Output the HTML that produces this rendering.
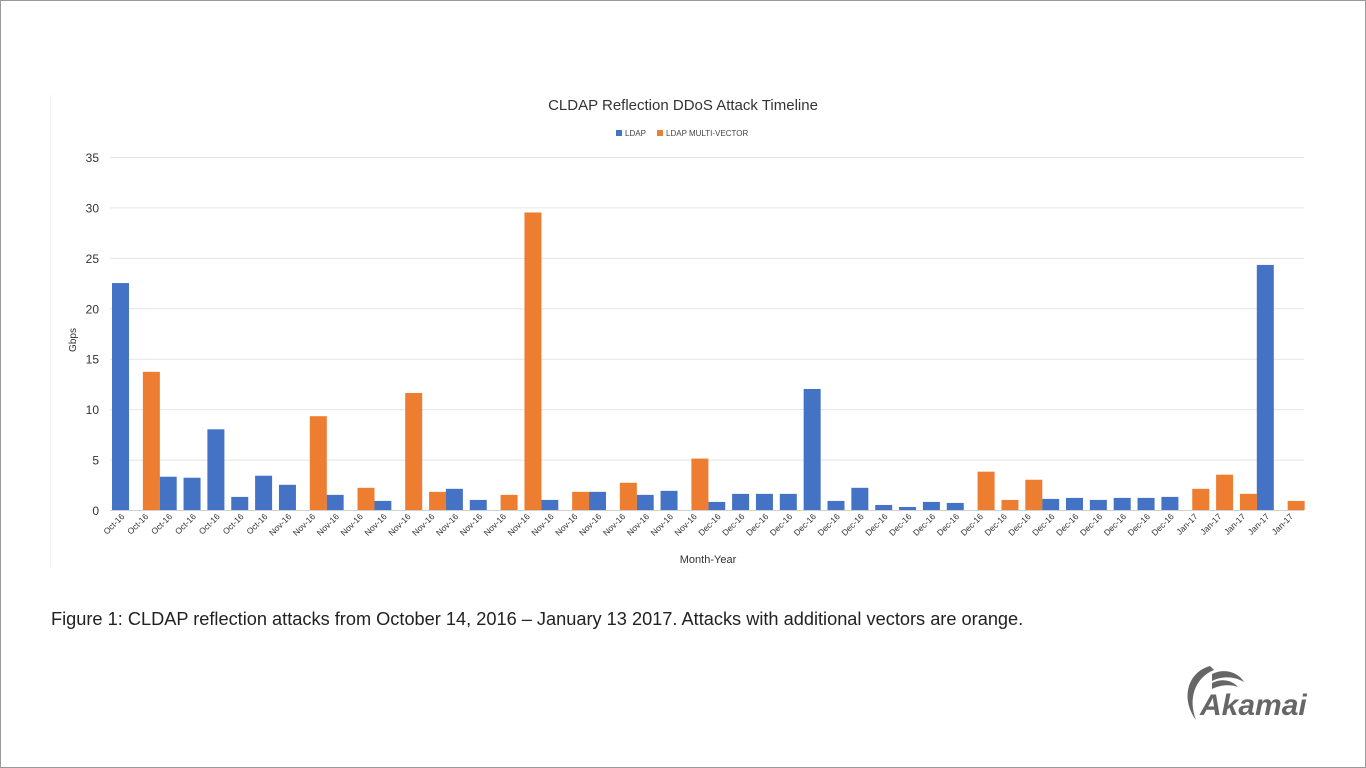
<!DOCTYPE html>
<html><head><meta charset="utf-8"><style>
html,body{margin:0;padding:0;background:#fff}
#frame{position:absolute;left:0;top:0;width:1364px;height:766px;border:1px solid #9a9a9a;background:#fff}
svg text{font-family:"Liberation Sans",sans-serif}
#caption{position:absolute;left:51px;top:609px;font-family:"Liberation Sans",sans-serif;font-size:18.2px;color:#222;white-space:nowrap}
</style></head><body>
<div id="frame"></div>
<svg id="chart" width="1366" height="768" style="position:absolute;left:0;top:0">
<line x1="50.5" y1="95" x2="50.5" y2="568" stroke="#f2f2f2"/>
<text x="683" y="110" text-anchor="middle" font-size="15" fill="#333">CLDAP Reflection DDoS Attack Timeline</text>
<g>
<rect x="616" y="130" width="6" height="6" fill="#4472c4"/>
<text x="625" y="136" font-size="8" fill="#444">LDAP</text>
<rect x="657" y="130" width="6" height="6" fill="#ed7d31"/>
<text x="666" y="136" font-size="8" fill="#444">LDAP MULTI-VECTOR</text>
</g>
<text transform="translate(76,340) rotate(-90)" text-anchor="middle" font-size="10" fill="#333">Gbps</text>
<text x="708" y="563" text-anchor="middle" font-size="11" fill="#333">Month-Year</text>
<g id="grid"></g><g id="bars"></g><g id="xlabels"></g>
</svg>
<div id="caption">Figure 1: CLDAP reflection attacks from October 14, 2016 – January 13 2017. Attacks with additional vectors are orange.</div>
<svg width="140" height="70" style="position:absolute;left:1180px;top:660px">
<path d="M30 6 C8 12 0 38 16 60 C8 40 14 18 34 10 Z" fill="#666"/>
<path d="M32 14 C44 8 58 12 64 22 C54 16 42 16 32 21 Z" fill="#666"/>
<path d="M32 23 C42 18 52 20 58 27 C50 24 40 25 32 29 Z" fill="#666"/>
<text x="20" y="55" font-size="30" font-weight="bold" font-style="italic" fill="#666">Akamai</text>
</svg>
<script>
const labels=["Oct-16","Oct-16","Oct-16","Oct-16","Oct-16","Oct-16","Oct-16",
"Nov-16","Nov-16","Nov-16","Nov-16","Nov-16","Nov-16","Nov-16","Nov-16","Nov-16","Nov-16","Nov-16","Nov-16","Nov-16","Nov-16","Nov-16","Nov-16","Nov-16","Nov-16",
"Dec-16","Dec-16","Dec-16","Dec-16","Dec-16","Dec-16","Dec-16","Dec-16","Dec-16","Dec-16","Dec-16","Dec-16","Dec-16","Dec-16","Dec-16","Dec-16","Dec-16","Dec-16","Dec-16","Dec-16",
"Jan-17","Jan-17","Jan-17","Jan-17","Jan-17"];
const ldap=[22.5,0,3.3,3.2,8.0,1.3,3.4,2.5,0,1.5,0,0.9,0,0,2.1,1.0,0,0,1.0,0,1.8,0,1.5,1.9,0,0.8,1.6,1.6,1.6,12.0,0.9,2.2,0.5,0.3,0.8,0.7,0,0,0,1.1,1.2,1.0,1.2,1.2,1.3,0,0,0,24.3,0];
const multi=[0,13.7,0,0,0,0,0,0,9.3,0,2.2,0,11.6,1.8,0,0,1.5,29.5,0,1.8,0,2.7,0,0,5.1,0,0,0,0,0,0,0,0,0,0,0,3.8,1.0,3.0,0,0,0,0,0,0,2.1,3.5,1.6,0,0.9];
const yTicks=[0,5,10,15,20,25,30,35];
const NS="http://www.w3.org/2000/svg";
const X0=110,STEP=23.85,Y0=510,YK=(510-157)/35;
const y=v=>Y0-v*YK;
const xb=i=>X0+2+i*STEP;
function mk(t,a){const e=document.createElementNS(NS,t);for(const k in a)e.setAttribute(k,a[k]);return e;}
const grid=document.getElementById('grid');
yTicks.forEach(t=>{
  const l=mk('line',{x1:X0,x2:1304,y1:y(t)+0.5,y2:y(t)+0.5,stroke:t===0?'#d0d0d0':'#e4e4e4'});
  
  
  grid.appendChild(l);
  const tx=mk('text',{x:99,y:y(t)+5,'text-anchor':'end','font-size':'12',fill:'#333'});
  tx.textContent=t;
  
  
  grid.appendChild(tx);
});
const bars=document.getElementById('bars');
ldap.forEach((v,i)=>{ if(v<=0)return;
  const r=mk('rect',{x:xb(i),y:y(v),width:17,height:Y0-y(v),fill:'#4472c4'});
  
  
  bars.appendChild(r);
});
multi.forEach((v,i)=>{ if(v<=0)return;
  const r=mk('rect',{x:xb(i)+7,y:y(v),width:17,height:Y0-y(v),fill:'#ed7d31'});
  
  
  bars.appendChild(r);
});
const xl=document.getElementById('xlabels');
labels.forEach((s,i)=>{
  const cx=X0+i*STEP+15;
  const t=mk('text',{transform:`translate(${cx},517) rotate(-45)`,'text-anchor':'end','font-size':'8.5',fill:'#333'});
  t.textContent=s;
  
  
  xl.appendChild(t);
});
</script>
</body></html>
